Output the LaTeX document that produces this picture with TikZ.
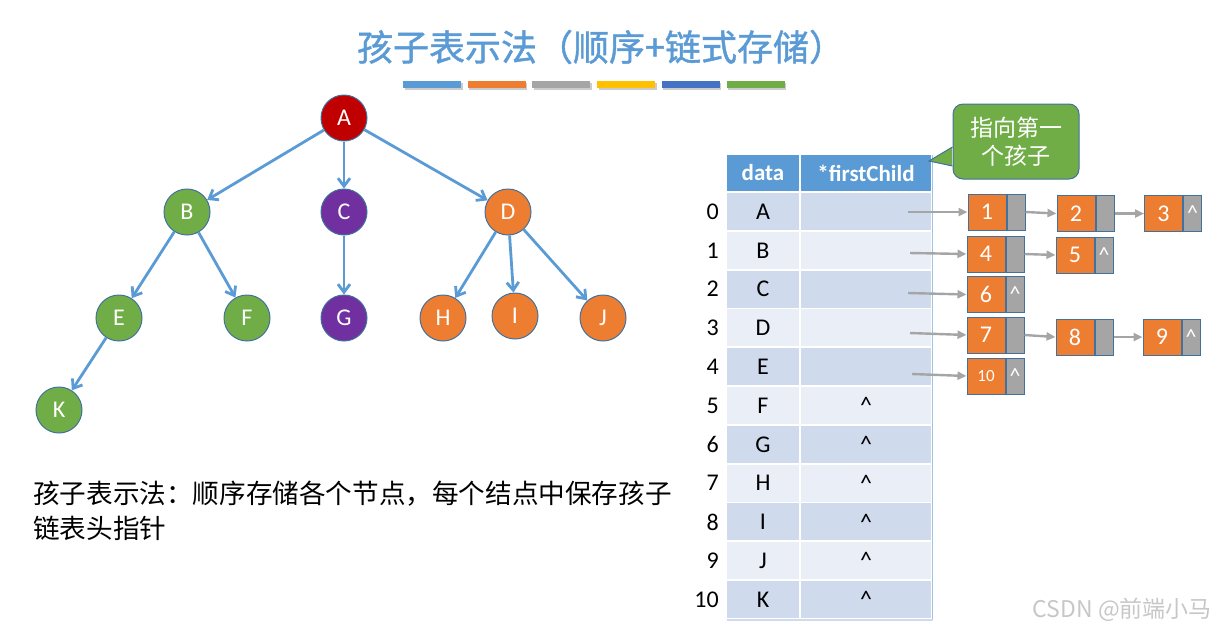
\documentclass[tikz,border=0pt]{standalone}
\usepackage{fontspec}
\setmainfont{Carlito}
\newfontfamily\cjk{Noto Sans CJK SC}
\newfontfamily\cjkbold{Noto Sans CJK SC}[FakeBold=1.2]
\usetikzlibrary{arrows.meta,positioning,shapes}
\definecolor{tblue}{HTML}{5B9BD5}
\definecolor{torange}{HTML}{ED7D31}
\definecolor{tgray}{HTML}{A5A5A5}
\definecolor{tyellow}{HTML}{FFC000}
\definecolor{tdblue}{HTML}{4472C4}
\definecolor{tgreen}{HTML}{70AD47}
\definecolor{tred}{HTML}{C00000}
\definecolor{tpurple}{HTML}{7030A0}
\definecolor{tborder}{HTML}{41719C}
\definecolor{rowdark}{HTML}{CFDBED}
\definecolor{rowlight}{HTML}{E9EEF7}

\begin{document}
\begin{tikzpicture}[%
    x=1pt, y=-1pt,              % work in pixels, y going down
    >={Straight Barb[length=8pt,width=12pt]},
    font=\fontsize{24}{26}\selectfont,
    ]
% -------------------------------------------------
% Styles for tree, table and list nodes
\tikzset{
tnode/.style={circle, draw=tborder, line width=1pt, minimum size=46pt, inner sep=0pt, text=white},
tedge/.style={->, draw=tblue, line width=2.8pt},
cell/.style={rectangle, minimum height=37pt, inner sep=0pt, text=black, font=\fontsize{24}{26}\selectfont},
datacell/.style={cell, minimum width=72pt},
ptrcell/.style={cell, minimum width=130pt},
head/.style={rectangle, fill=tblue, text=white, minimum height=36pt, inner sep=0pt, font=\bfseries\fontsize{23}{26}\selectfont},
idx/.style={anchor=east, inner sep=0pt, font=\fontsize{24}{26}\selectfont},
databox/.style={rectangle, draw=tborder, line width=1pt, fill=torange, text=white, minimum width=38pt, minimum height=36pt, inner sep=0pt, font=\fontsize{24}{26}\selectfont},
ptrbox/.style={rectangle, draw=tborder, line width=1pt, fill=tgray, text=white, minimum width=18pt, minimum height=36pt, inner sep=0pt, font=\fontsize{22}{24}\selectfont},
% -------------------------------------------------
% Connector line style for the linked lists
link/.style={-{Triangle[length=9pt,width=8pt]}, draw=tgray, line width=2.4pt},
note/.style={rectangle, rounded corners=10pt, draw=tborder, line width=1pt, fill=tgreen, text=white, align=center, minimum width=126pt, minimum height=75pt, font=\cjk\fontsize{23}{28}\selectfont},
}
\useasboundingbox (0,0) rectangle (1220,630);

% Title and colour bars
\node[font=\cjkbold\fontsize{36}{40}\selectfont, text=tblue] (title) at (601,47) {孩子表示法（顺序+链式存储）};
\foreach \c [count=\k from 0] in {tblue,torange,tgray,tyellow,tdblue,tgreen} {
    \fill[black!20] (404.5+64.7*\k, 82.5) rectangle +(58,7);
    \fill[\c] (403+64.7*\k, 81) rectangle +(58,7);
}

% -------------------------------------------------
% The tree
\foreach \n/\x/\y/\c in {A/344/118/tred, B/187/212/tgreen, C/344/212/tpurple, D/508/212/torange,
    E/119/318/tgreen, F/247/318/tgreen, G/344/318/tpurple, H/443/318/torange,
    I/515/316/torange, J/603/318/torange, K/59/410/tgreen}
    \node[tnode, fill=\c] (\n) at (\x,\y) {\n};
\foreach \u/\v in {A/B, A/C, A/D, B/E, B/F, C/G, D/H, D/I, D/J, E/K}
    \draw[tedge] (\u) -- (\v);

\node[anchor=north west, align=left, inner sep=0pt, font=\cjk\fontsize{26.6}{35}\selectfont] (desc) at (33,481)
    {孩子表示法：顺序存储各个节点，每个结点中保存孩子\\链表头指针};

% -------------------------------------------------
% The table of nodes
\node[head, minimum width=72pt] (hdata) at (763,173) {data};
\node[head, minimum width=130pt] (hptr) at (866,173) {*firstChild};
\foreach \i/\name/\nul in {0/A/, 1/B/, 2/C/, 3/D/, 4/E/, 5/F/\textasciicircum, 6/G/\textasciicircum,
    7/H/\textasciicircum, 8/I/\textasciicircum, 9/J/\textasciicircum, 10/K/\textasciicircum} {
    \ifodd\i\relax \def\rowcol{rowlight}\else \def\rowcol{rowdark}\fi
    \node[idx] (k\i) at (719,{211.5+38.8*\i}) {\i};
    \node[datacell, fill=\rowcol] (d\i) at (763,{211.5+38.8*\i}) {\name};
    \node[ptrcell, fill=\rowcol] (f\i) at (866,{211.5+38.8*\i}) {\nul};
}
\draw[tblue!60, line width=1.5pt] ([xshift=1.5pt]hptr.north east) -- ([xshift=1.5pt,yshift=-3pt]f10.south east);
\draw[rowdark, line width=2.5pt] ([yshift=-2pt]d10.south west) -- ([xshift=1.5pt,yshift=-2pt]f10.south east);

% -------------------------------------------------
% The child lists
\foreach \n/\x/\y/\nul in {1/987/212/, 2/1076/213.5/, 3/1163.5/213.5/\textasciicircum,
    4/986/254/, 5/1075/255/\textasciicircum, 6/986/294.5/\textasciicircum,
    7/986/335/, 8/1075/337/, 9/1162/337/\textasciicircum} {
    \node[databox] (n\n) at (\x,\y) {\n};
    \node[ptrbox, right=0pt of n\n] (p\n) {\nul};
}
\node[databox, font=\fontsize{17}{18}\selectfont, text depth=-6pt] (n10) at (986,376) {10};
\node[ptrbox, right=0pt of n10] (p10) {\textasciicircum};

\coordinate (s0) at (908,212);
\coordinate (s1) at (910,253);
\coordinate (s2) at (908,293);
\coordinate (s3) at (910,333);
\coordinate (s4) at (912,374);
\draw[link] (s0) -- (n1.west);
\draw[link] (s1) -- (n4.west);
\draw[link] (s2) -- (n6.west);
\draw[link] (s3) -- (n7.west);
\draw[link] (s4) -- (n10.west);
\foreach \a/\b in {1/2, 2/3, 4/5, 7/8, 8/9}
    \draw[link] (p\a.east) -- (n\b.west);

% -------------------------------------------------
% Callout pointing to the header
\node[note] (note) at (1016,141.5) {指向第一\\个孩子};
\coordinate (tip) at (929,161);
\fill[tgreen] ([xshift=-0.6pt,yshift=-5.5pt]note.west) -- (tip) -- ([xshift=-0.6pt,yshift=-24.5pt]note.west) -- cycle;
\draw[tborder, line width=1pt] ([yshift=-5.5pt]note.west) -- (tip) -- ([yshift=-24.5pt]note.west);

\node[anchor=east, inner sep=0pt, text=black!22, font=\cjk\fontsize{23}{26}\selectfont] (mark) at (1212,610) {CSDN @前端小马};
\end{tikzpicture}
\end{document}
